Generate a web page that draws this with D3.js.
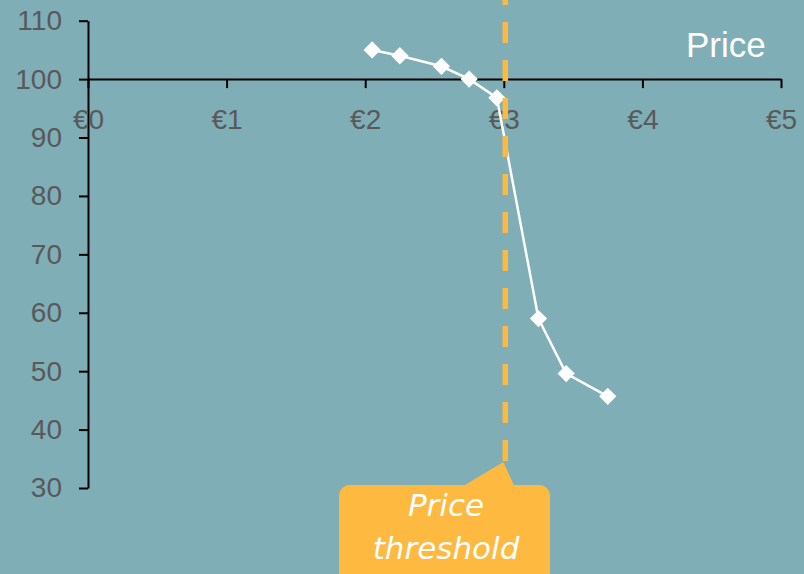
<!DOCTYPE html>
<html>
<head>
<meta charset="utf-8">
<script src="https://cdn.jsdelivr.net/npm/d3@7"></script>
<style>
  html, body { margin: 0; padding: 0; background: #7faeb6; }
  svg { display: block; }
</style>
</head>
<body>
<svg id="chart"></svg>
<script>
// price (euro) vs demand index
const prices = [2.05, 2.25, 2.55, 2.75, 2.95, 3.25, 3.45, 3.75];
const demand = [105, 104, 102.2, 100, 96.8, 59, 49.6, 45.7];
const xTicks = [0, 1, 2, 3, 4, 5];
const yTicks = [30, 40, 50, 60, 70, 80, 90, 100, 110];
const threshold = 3;
const seriesName = 'Price';
const calloutLines = ['Price', 'threshold'];

const W = 804, H = 574;
const svg = d3.select('#chart').attr('width', W).attr('height', H);

svg.append('rect').attr('width', W).attr('height', H).attr('fill', '#7faeb6');

const x = d3.scaleLinear().domain([0, 5]).range([88, 781]);
const y = d3.scaleLinear().domain([30, 110]).range([488, 20.7]);

const tickColor = '#595959';
const orange = '#fdb940';

// y axis
const yAxis = svg.append('g')
    .attr('transform', `translate(${x(0)},0)`)
    .call(d3.axisLeft(y).tickValues(yTicks).tickSize(9).tickPadding(17).tickSizeOuter(0));
yAxis.select('.domain').attr('stroke', '#000').attr('stroke-width', 2);
yAxis.selectAll('.tick line').attr('stroke', '#000').attr('stroke-width', 2);
yAxis.selectAll('.tick text')
    .attr('fill', tickColor)
    .style('font-family', 'Liberation Sans, Arial, sans-serif')
    .style('font-size', '28px');

// x axis crossing at 100
const xAxis = svg.append('g')
    .attr('transform', `translate(0,${y(100)})`)
    .call(d3.axisBottom(x).tickValues(xTicks).tickSize(9).tickPadding(21).tickSizeOuter(0)
        .tickFormat(d => '€' + d));
xAxis.select('.domain').attr('stroke', '#000').attr('stroke-width', 2);
xAxis.selectAll('.tick line').attr('stroke', '#000').attr('stroke-width', 2);
xAxis.selectAll('.tick text')
    .attr('fill', tickColor)
    .style('font-family', 'Liberation Sans, Arial, sans-serif')
    .style('font-size', '28px');

// series
const pts = prices.map((p, i) => ({ p, v: demand[i] }));
svg.append('path')
    .datum(pts)
    .attr('fill', 'none')
    .attr('stroke', '#fff')
    .attr('stroke-width', 2.5)
    .attr('d', d3.line().x(d => x(d.p)).y(d => y(d.v)));

svg.selectAll('.marker')
    .data(pts)
    .enter().append('path')
    .attr('class', 'marker')
    .attr('transform', d => `translate(${x(d.p)},${y(d.v)})`)
    .attr('d', d3.symbol(d3.symbolDiamond2, 190)())
    .attr('fill', '#fff');

// threshold line
const tx = x(threshold) + 1.5;
svg.append('line')
    .attr('x1', tx).attr('x2', tx)
    .attr('y1', -16).attr('y2', 462)
    .attr('stroke', orange)
    .attr('stroke-width', 5.5)
    .attr('stroke-dasharray', '21,17');

// callout
svg.append('path')
    .attr('fill', orange)
    .attr('d', `M${tx - 42},486 L${tx - 2},462 L${tx + 9},486 Z`);
svg.append('rect')
    .attr('x', 339).attr('y', 485)
    .attr('width', 211).attr('height', 110)
    .attr('rx', 11)
    .attr('fill', orange);
svg.append('text')
    .attr('x', 446).attr('text-anchor', 'middle')
    .attr('fill', '#fff')
    .style('font-family', 'DejaVu Sans, sans-serif')
    .style('font-style', 'italic')
    .style('font-size', '31px')
    .selectAll('tspan')
    .data(calloutLines)
    .enter().append('tspan')
    .attr('x', 446)
    .attr('y', (d, i) => 516 + i * 43)
    .text(d => d);

// legend label
svg.append('text')
    .attr('x', 686).attr('y', 57)
    .attr('fill', '#fff')
    .style('font-family', 'Liberation Sans, Arial, sans-serif')
    .style('font-size', '35px')
    .text(seriesName);
</script>
</body>
</html>
